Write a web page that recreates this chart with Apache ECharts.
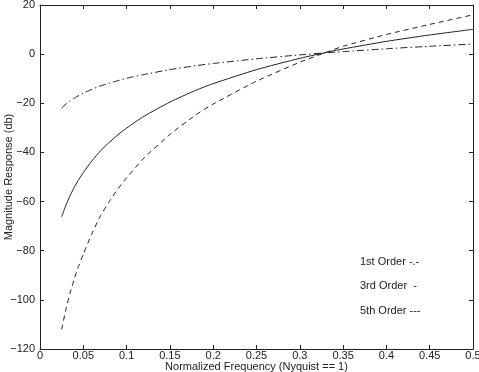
<!DOCTYPE html>
<html>
<head>
<meta charset="utf-8">
<script src="https://cdn.jsdelivr.net/npm/echarts@6/dist/echarts.min.js"></script>
<style>
html, body { margin: 0; padding: 0; background: #fff; }
#chart { width: 479px; height: 372px; }
</style>
</head>
<body>
<div id="chart"></div>
<script>
// normalized frequency points (x) and magnitude responses
var freq = [0.025, 0.03, 0.035, 0.04, 0.045, 0.05, 0.06, 0.07, 0.08, 0.09, 0.1, 0.12, 0.15, 0.18, 0.2, 0.25, 0.3, 0.335, 0.35, 0.4, 0.45, 0.5];
var order1 = [-21.9, -20.3, -19.0, -17.8, -16.8, -15.9, -14.3, -12.9, -11.8, -10.8, -9.8, -8.3, -6.3, -4.7, -3.8, -1.9, -0.3, 0.65, 1.0, 2.2, 3.2, 4.1];
var order3 = [-66.2, -61.4, -57.4, -53.9, -50.9, -48.2, -43.4, -39.3, -35.9, -32.8, -30.1, -25.3, -19.5, -14.7, -12.0, -6.3, -1.7, 1.05, 2.1, 5.2, 7.8, 10.1];
var order5 = [-112.0, -103.8, -96.9, -91.0, -85.9, -81.4, -73.0, -65.7, -60.0, -54.8, -50.3, -42.3, -32.7, -24.7, -20.3, -11.0, -3.3, 1.35, 3.2, 8.0, 12.1, 16.0];
var legendLines = ['1st Order -.-', '3rd Order  -', '5th Order ---'];

function pairs(ys) {
	var res = [];
	for (var i = 0; i < freq.length; i++) res.push([freq[i], ys[i]]);
	return res;
}

var font = 'Liberation Sans, Arial, sans-serif';
var ink = '#222';

var myChart = echarts.init(document.getElementById('chart'));

var xCommon = {
	type: 'value', min: 0, max: 0.5, interval: 0.05,
	axisLine: { show: true, onZero: false, lineStyle: { color: ink, width: 1 } },
	axisTick: { show: true, inside: true, length: 4, lineStyle: { color: ink } },
	splitLine: { show: false }
};
var yCommon = {
	type: 'value', min: -120, max: 20, interval: 20,
	axisLine: { show: true, onZero: false, lineStyle: { color: ink, width: 1 } },
	axisTick: { show: true, inside: true, length: 4, lineStyle: { color: ink } },
	splitLine: { show: false }
};

var option = {
	animation: false,
	backgroundColor: '#fff',
	grid: { left: 40, right: 6, top: 5, bottom: 23, containLabel: false, outerBoundsMode: 'none' },
	xAxis: [
		Object.assign({}, xCommon, {
			position: 'bottom',
			name: 'Normalized Frequency (Nyquist == 1)',
			nameLocation: 'middle', nameGap: 12, nameMoveOverlap: false,
			nameTextStyle: { fontFamily: font, fontSize: 11, color: ink },
			axisLabel: { color: ink, fontFamily: font, fontSize: 11, margin: 1,
				formatter: function (v) { return String(Math.round(v * 100) / 100); } }
		}),
		Object.assign({}, xCommon, { position: 'top', axisLabel: { show: false } })
	],
	yAxis: [
		Object.assign({}, yCommon, {
			position: 'left',
			name: 'Magnitude Response (db)',
			nameLocation: 'middle', nameGap: 26, nameMoveOverlap: false,
			nameTextStyle: { fontFamily: font, fontSize: 11, color: ink },
			axisLabel: { color: ink, fontFamily: font, fontSize: 11, margin: 5,
				formatter: function (v) { return String(v).replace('-', '\u2212'); } }
		}),
		Object.assign({}, yCommon, { position: 'right', axisLabel: { show: false } })
	],
	series: [
		{
			name: '1st Order', type: 'line', data: pairs(order1), smooth: 0.2,
			showSymbol: false, lineStyle: { color: ink, width: 1, type: [7, 3, 1.5, 3] }
		},
		{
			name: '3rd Order', type: 'line', data: pairs(order3), smooth: 0.2,
			showSymbol: false, lineStyle: { color: ink, width: 1, type: 'solid' }
		},
		{
			name: '5th Order', type: 'line', data: pairs(order5), smooth: 0.2,
			showSymbol: false, lineStyle: { color: ink, width: 1, type: [5, 4] }
		}
	],
	graphic: legendLines.map(function (t, i) {
		return {
			type: 'text', left: 360, top: 256 + i * 24.5,
			style: { text: t, fontFamily: font, fontSize: 11, fill: ink }
		};
	})
};

myChart.setOption(option);
</script>
</body>
</html>
